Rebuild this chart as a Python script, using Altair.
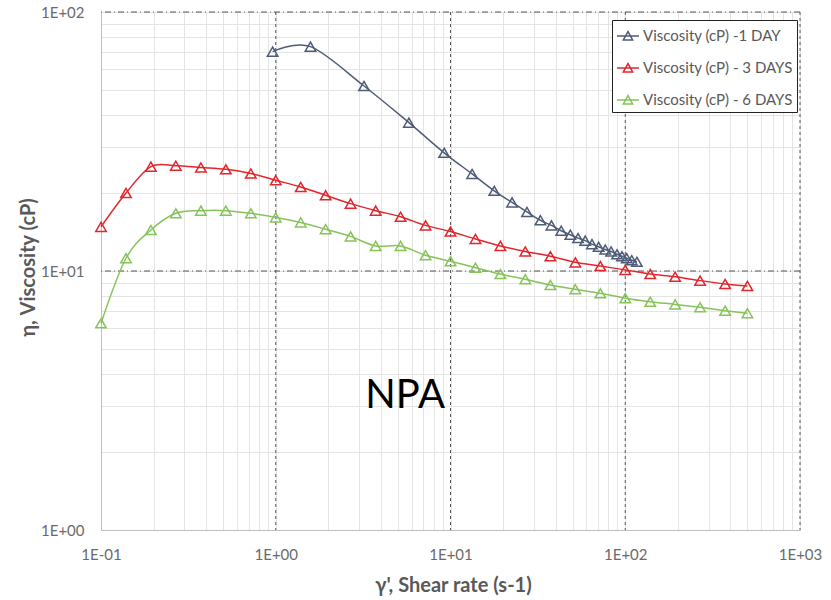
import altair as alt
import pandas as pd

# ---- data ----
series_names = ["Viscosity (cP) -1 DAY", "Viscosity (cP) - 3 DAYS", "Viscosity (cP) - 6 DAYS"]
series_colors = ["#4E5C78", "#E2262C", "#86C45A"]

day1_x = [0.96, 1.58, 3.2, 5.78, 9.2, 13.3, 17.8, 22.5, 27.4, 32.7, 37.8, 43.0,
          48.5, 53.7, 59.0, 64.5, 70.4, 76.8, 83.0, 89.7, 95.8, 102.0, 109.0, 116.6]
day1_y = [70.3, 73.5, 51.8, 37.4, 28.6, 23.7, 20.4, 18.4, 16.9, 15.7, 15.0, 14.3,
          13.8, 13.4, 13.1, 12.7, 12.4, 12.1, 11.9, 11.6, 11.4, 11.2, 11.0, 10.85]

day3_x = [0.1, 0.139, 0.193, 0.268, 0.373, 0.518, 0.72, 1.0, 1.39, 1.93, 2.68, 3.73, 5.18,
          7.2, 10.0, 13.9, 19.3, 26.8, 37.3, 51.8, 72.0, 100.0, 139.0, 193.0, 268.0, 373.0, 500.0]
day3_y = [14.8, 20.0, 25.3, 25.5, 25.1, 24.7, 23.8, 22.4, 21.1, 19.6, 18.2, 17.1, 16.2,
          15.0, 14.2, 13.3, 12.5, 11.9, 11.4, 10.8, 10.45, 10.1, 9.73, 9.5, 9.18, 8.91, 8.75]

day6_x = day3_x
day6_y = [6.28, 11.2, 14.4, 16.7, 17.1, 17.1, 16.7, 16.1, 15.4, 14.5, 13.6, 12.5, 12.5,
          11.5, 10.9, 10.3, 9.73, 9.29, 8.83, 8.50, 8.20, 7.85, 7.61, 7.43, 7.24, 7.03, 6.87]

major_x = [1, 10, 100, 1000]
major_y = [10, 100]
x_domain = [0.1, 1000]
y_domain = [1, 100]
annotation = ["NPA"]
annotation_x = [5.5]
annotation_y = [3.3]

x_title = "γ', Shear rate (s-1)"
y_title = "η, Viscosity (cP)"

# ---- build tables ----
rows = []
for name, xs, ys in zip(series_names, [day1_x, day3_x, day6_x], [day1_y, day3_y, day6_y]):
    for i, (a, b) in enumerate(zip(xs, ys)):
        rows.append({"series": name, "order": i, "rate": a, "visc": b})
df = pd.DataFrame(rows)

x_ticks = [m * 10.0 ** e for e in range(-1, 3) for m in range(1, 10)] + [1000.0]
y_ticks = [m * 10.0 ** e for e in range(0, 2) for m in range(1, 10)] + [100.0]

FONT = "Lato"
GREY = "#595959"
LGREY = "#6a6a6a"
label_expr = ("abs(log(datum.value)/LN10 - round(log(datum.value)/LN10)) < 0.001 ? "
              "('1E' + (datum.value < 0.99 ? '-' : '+') + '0' + abs(round(log(datum.value)/LN10))) : ''")

xscale = alt.Scale(type="log", domain=x_domain, nice=False)
yscale = alt.Scale(type="log", domain=y_domain, nice=False)
cscale = alt.Scale(domain=series_names, range=series_colors)

x_axis = alt.Axis(values=x_ticks, labelExpr=label_expr, labelOverlap=False, labelFlush=False,
                  ticks=False, grid=True, gridColor="#e4e4e4", gridWidth=1, domainColor="#bfbfbf",
                  labelFont=FONT, labelFontSize=15, labelColor=LGREY, labelPadding=17,
                  title=x_title, titleFont=FONT, titleFontSize=20, titleFontWeight="bold",
                  titleColor=GREY, titleX=352, titleY=55, titleBaseline="middle")
y_axis = alt.Axis(values=y_ticks, labelExpr=label_expr, labelOverlap=False, labelFlush=False,
                  ticks=False, grid=True, gridColor="#e4e4e4", gridWidth=1, domainColor="#bfbfbf",
                  labelFont=FONT, labelFontSize=15, labelColor=LGREY, labelPadding=17,
                  title=y_title, titleFont=FONT, titleFontSize=20, titleFontWeight="bold",
                  titleColor=GREY, titleX=-73, titleY=255, titleAngle=270,
                  titleAlign="center", titleBaseline="middle")

legend = alt.Legend(
    title=None, orient="none", legendX=511, legendY=8,
    symbolType="M-1,0H1M-0.42,0.36L0,-0.4L0.42,0.36Z", symbolSize=484,
    symbolStrokeWidth=1.5, labelFont=FONT, labelFontSize=15, labelColor=GREY,
    labelLimit=300, labelOffset=3, strokeColor="#222222", fillColor="white",
    padding=4, rowPadding=12,
)

X = alt.X("rate:Q", scale=xscale, axis=x_axis)
Y = alt.Y("visc:Q", scale=yscale, axis=y_axis)
C = alt.Color("series:N", scale=cscale, legend=legend)

vrules = alt.Chart(pd.DataFrame({"rate": major_x})).mark_rule(
    color="#555555", strokeWidth=1, strokeDash=[3, 3]
).encode(x=X)

hrules = alt.Chart(pd.DataFrame({"visc": major_y})).mark_rule(
    color="#555555", strokeWidth=1, strokeDash=[6, 3, 1, 3]
).encode(y=Y)

lines = alt.Chart(df).mark_line(interpolate="cardinal", strokeWidth=1.5).encode(
    x=X, y=Y, color=C, order="order:Q",
)

points = alt.Chart(df).mark_point(shape="triangle-up", filled=False, size=110,
                                  strokeWidth=1.5, opacity=1).encode(
    x=X, y=Y, color=C,
)

text = alt.Chart(pd.DataFrame({"t": annotation, "rate": annotation_x, "visc": annotation_y})).mark_text(
    font=FONT, fontSize=40, color="black", align="center", baseline="middle"
).encode(x=X, y=Y, text="t:N")

chart = alt.layer(vrules, hrules, lines, points, text).properties(
    width=699, height=518,
    autosize=alt.AutoSizeParams(type="none"),
    padding={"left": 101, "top": 12, "right": 31, "bottom": 70},
    background="white",
).configure_view(stroke=None)

chart.save("out.html", embed_options={"renderer": "svg", "actions": False})
